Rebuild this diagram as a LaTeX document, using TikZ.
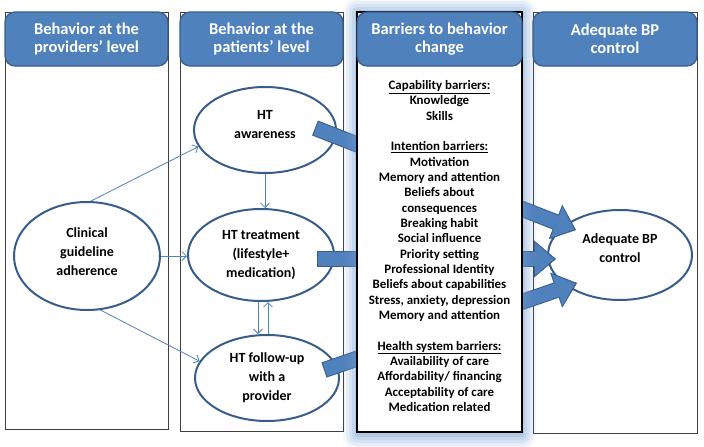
\documentclass[tikz,border=0pt]{standalone}
\usepackage{fontspec}
\setmainfont{Carlito}
\usepackage{xcolor}
\usetikzlibrary{shapes.geometric}
\usetikzlibrary{arrows.meta}
\usetikzlibrary{calc}

\definecolor{hdrblue}{HTML}{4F81BD}
\definecolor{edgeblue}{HTML}{385D8A}
\definecolor{glowblue}{HTML}{6F9AD0}

\begin{document}
\begin{tikzpicture}[x=1pt,y=-1pt,
  colbox/.style={draw=black!75, line width=0.8pt, fill=white},
  hdr/.style={draw=edgeblue, line width=1.2pt, fill=hdrblue, rounded corners=10pt, text=white,
    font=\fontsize{16.5}{18}\selectfont\bfseries, align=center, inner sep=0pt},
  oval/.style={ellipse, draw=edgeblue, line width=2pt, fill=white, inner sep=0pt, align=center,
    font=\fontsize{14}{19}\selectfont\bfseries},
  thinarr/.style={draw=hdrblue, line width=0.8pt, -{Straight Barb[length=4.5pt,width=9pt]}},
  blockarr/.style={draw=hdrblue, line width=14pt, shorten >=2pt, shorten <=1pt,
    -{Triangle[width=33pt,length=19pt,line width=0.4pt]},
    preaction={draw=edgeblue, line width=16pt, shorten >=0pt, shorten <=0pt,
      -{Triangle[width=37pt,length=22pt,line width=0.4pt]}}},
]

\useasboundingbox (0,0) rectangle (704,447);

% Draw the column boxes
\draw[colbox] (5,12) rectangle (168,429);
\draw[colbox] (180,12) rectangle (343,431);
\draw[colbox] (533,12) rectangle (697,433);

% Ellipses
\node[oval, minimum width=146pt, minimum height=108pt, text depth=8pt] (cg) at (87,256) {Clinical\\guideline\\adherence};
\node[oval, minimum width=142pt, minimum height=86pt, text depth=12pt] (aw) at (265,130) {HT\\awareness};
\node[oval, minimum width=146pt, minimum height=92pt] (at) at (261,255) {HT treatment\\(lifestyle+\\medication)};
\node[oval, minimum width=144pt, minimum height=86pt] (fu) at (267,378) {HT follow-up\\with a\\provider};
\node[oval, minimum width=144pt, minimum height=90pt, text depth=14pt] (bp) at (620,255) {Adequate BP\\control};

% thin arrows between the behaviors
\draw[thinarr] (cg.86) -- (aw.194);
\draw[thinarr] (cg.east) -- (cg.east -| at.west);
\draw[thinarr] (cg.284) -- (fu.166);
\draw[thinarr] (aw.south) -- (aw.south |- at.north);
\draw[thinarr] ([xshift=-3pt]at.south) -- ([xshift=-3pt]at.south |- fu.north);
\draw[thinarr] ([xshift=1pt]fu.north) -- ([xshift=1pt]fu.north |- at.south);

% block arrows to BP control
\coordinate (s1) at ($(aw)+(50,-2)$);
\coordinate (e1) at ($(bp)+(-44,-25)$);
\coordinate (s2) at ($(at)+(56,4)$);
\coordinate (e2) at ($(bp)+(-64,4)$);
\coordinate (s3) at ($(fu)+(57,-8)$);
\coordinate (e3) at ($(bp)+(-43,28)$);
\draw[blockarr] (s1) -- (e1);
\draw[blockarr] (s2) -- (e2);
\draw[blockarr] (s3) -- (e3);

% glow and box of the barriers column
\foreach \g/\op in {14/0.08,11/0.1,8/0.13,5/0.17,2/0.22}
  \fill[glowblue, opacity=\op, rounded corners=\g pt] ({357-\g},{12-\g}) rectangle ({522+\g},{435+\g});
\draw[colbox, draw=black, line width=1.2pt] (357,12) rectangle (522,432);

\node[font=\fontsize{12.9}{15.33}\selectfont\bfseries, align=center] (bars) at (439.5,246)
  {\underline{Capability barriers:}\\Knowledge\\Skills\\[15.33pt]
   \underline{Intention barriers:}\\Motivation\\Memory and attention\\Beliefs about\\consequences\\
   Breaking habit\\Social influence\\Priority setting\\Professional Identity\\
   Beliefs about capabilities\\Stress, anxiety, depression\\Memory and attention\\[15.33pt]
   \underline{Health system barriers:}\\Availability of care\\Affordability/ financing\\
   Acceptability of care\\Medication related};

% Column headers
\node[hdr, minimum width=163pt, minimum height=54pt] (h1) at (86.5,39) {Behavior at the\\providers’ level};
\node[hdr, minimum width=163pt, minimum height=54pt] (h2) at (261.5,39) {Behavior at the\\patients’ level};
\node[hdr, minimum width=165pt, minimum height=54pt] (h3) at (439.5,39) {Barriers to behavior\\change};
\node[hdr, minimum width=164pt, minimum height=54pt] (h4) at (615,39) {Adequate BP\\control};

\end{tikzpicture}
\end{document}
